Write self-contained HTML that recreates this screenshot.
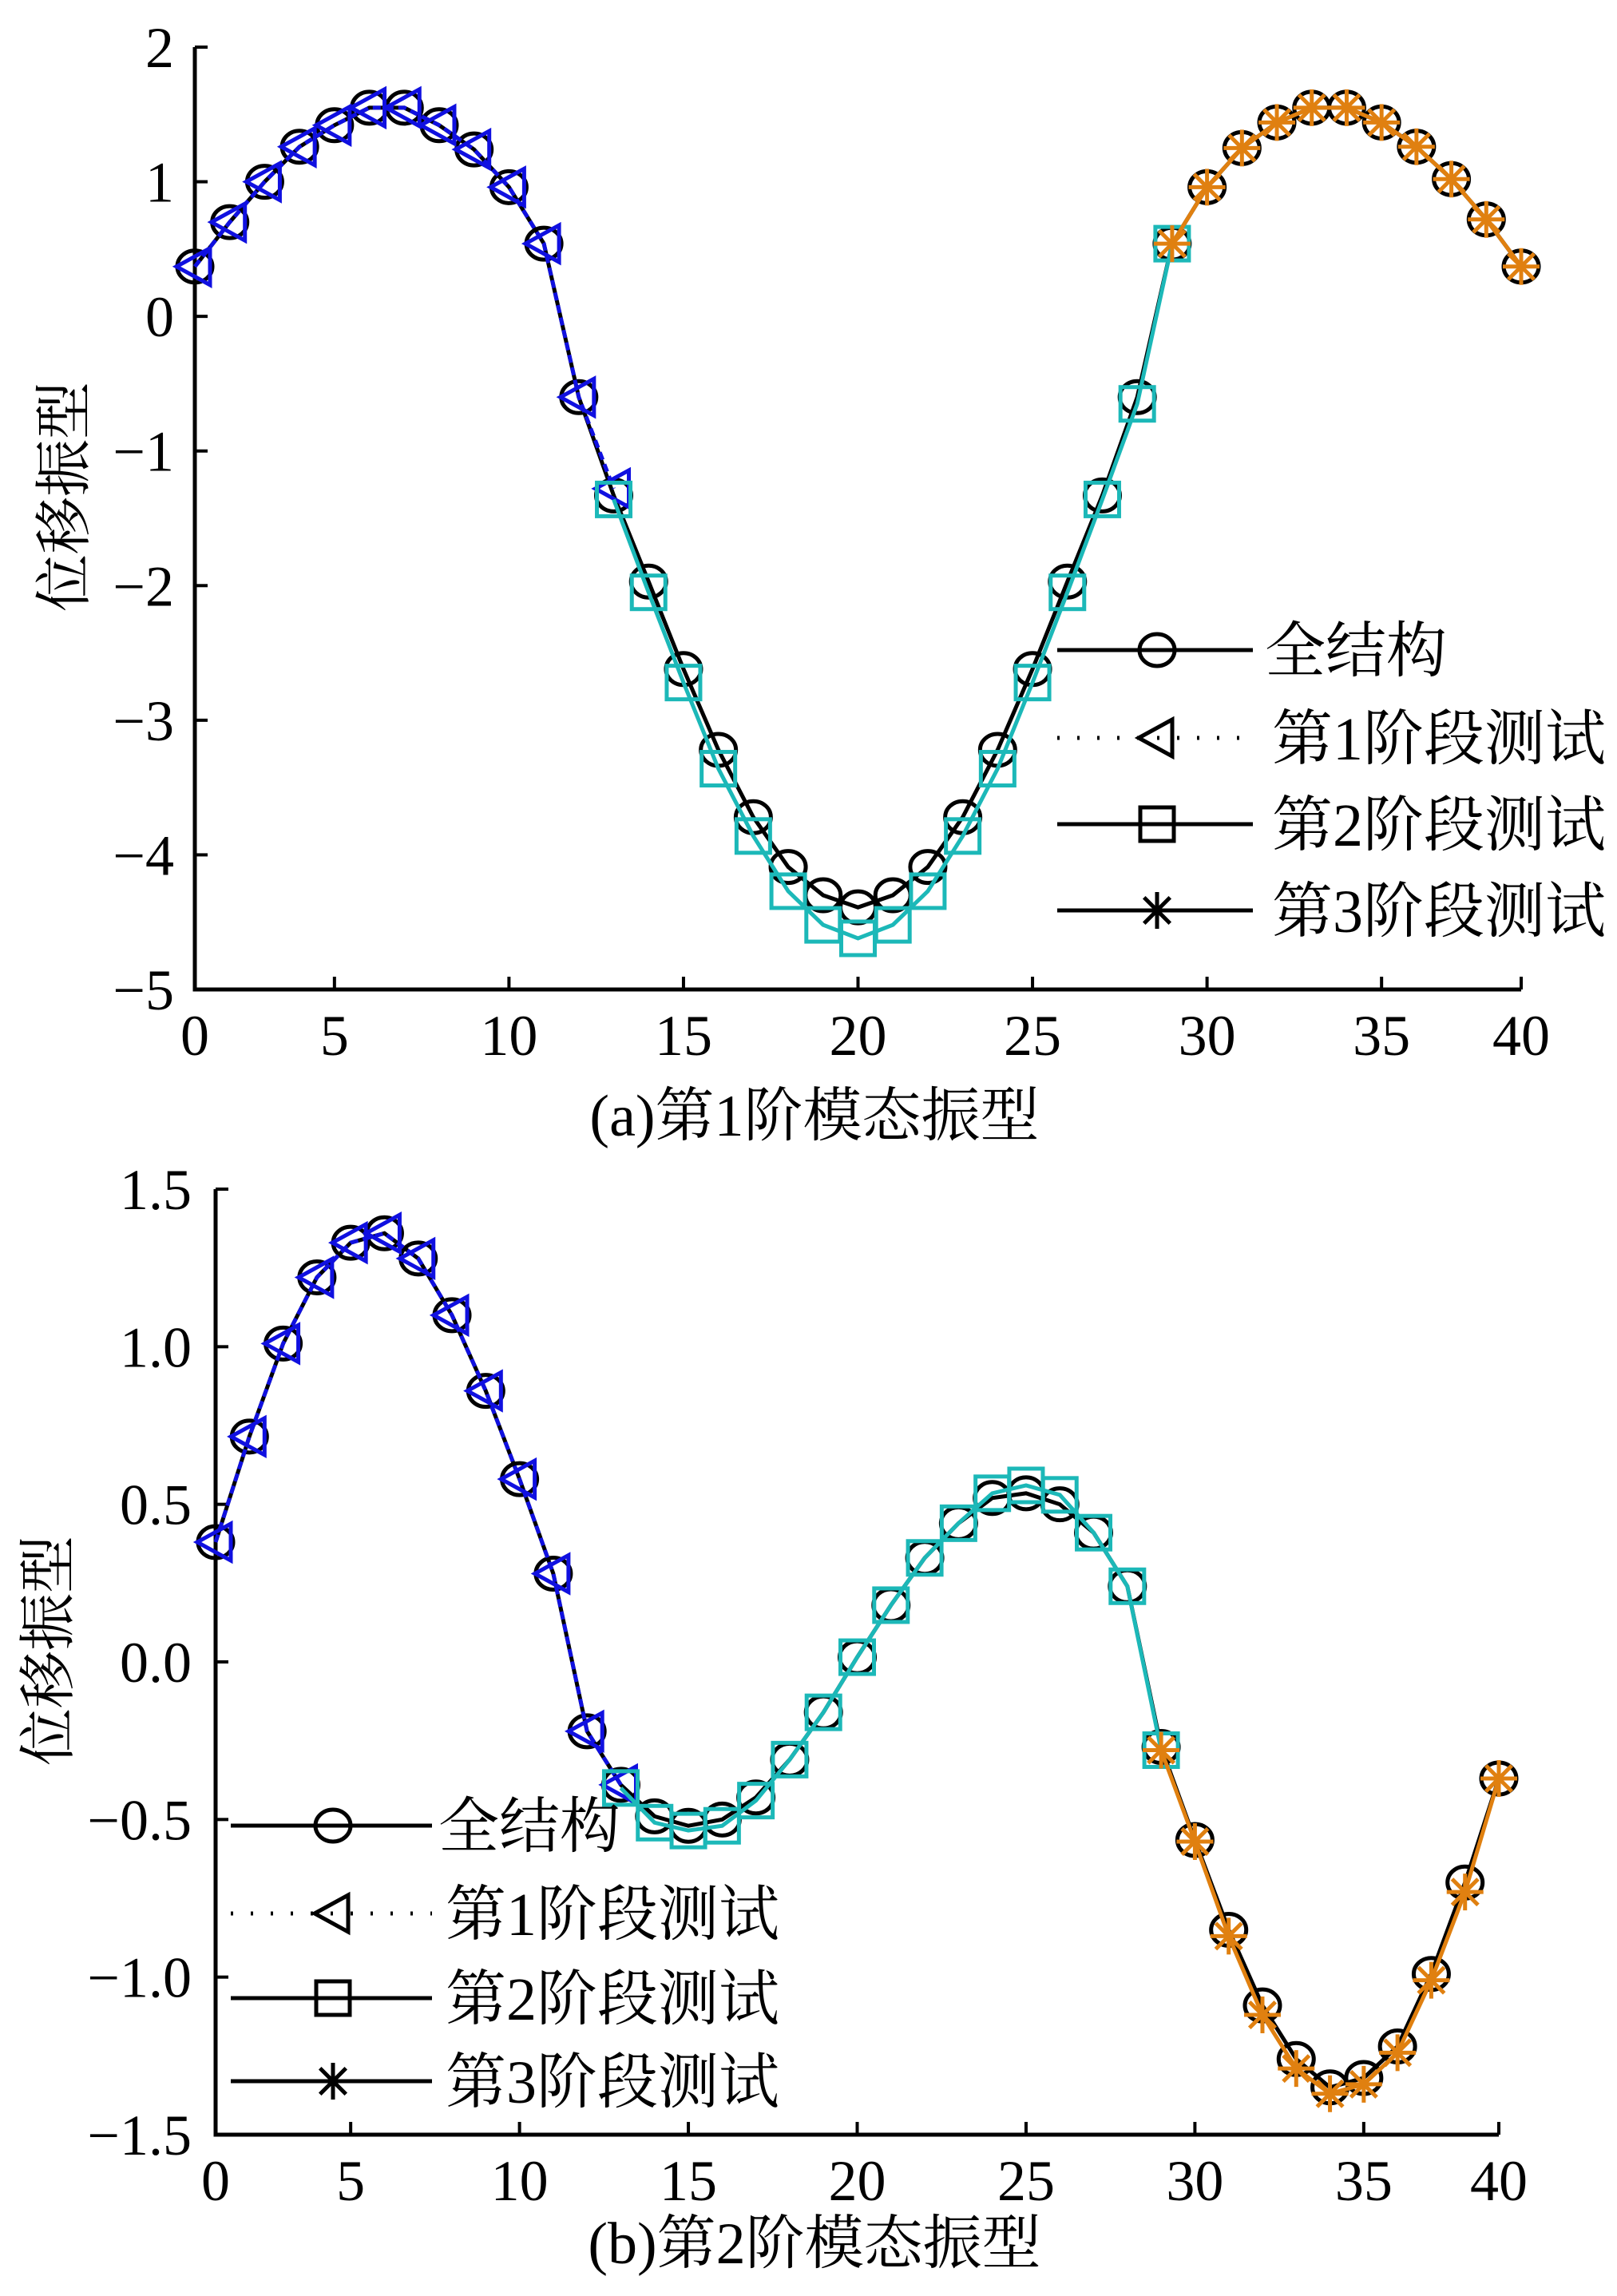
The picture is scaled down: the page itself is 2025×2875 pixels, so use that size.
<!DOCTYPE html>
<html><head><meta charset="utf-8">
<style>
html,body{margin:0;padding:0;background:#fff;}
svg{display:block;}
text{font-family:"Liberation Serif","Noto Serif CJK SC","Noto Sans CJK SC",serif;fill:#000;}
</style></head>
<body>
<svg id="chart" xmlns="http://www.w3.org/2000/svg" width="2025" height="2875" viewBox="0 0 2025 2875"></svg>
<script>
// ---- data ----
const nodes = Array.from({length:39},(_,i)=>i+1);
const xTickVals = [1,5,10,15,20,25,30,35,39];
const xTickLabels = ["0","5","10","15","20","25","30","35","40"];

const aFull = [0.37,0.70,1.00,1.26,1.42,1.55,1.55,1.42,1.24,0.96,0.54,-0.60,-1.33,-1.97,-2.62,-3.22,-3.72,-4.09,-4.30,-4.39,-4.30,-4.09,-3.72,-3.22,-2.62,-1.97,-1.33,-0.60,0.54,0.96,1.25,1.44,1.55,1.55,1.44,1.26,1.02,0.72,0.37];
const aStage1 = [0.37,0.70,1.00,1.26,1.42,1.55,1.55,1.42,1.24,0.96,0.54,-0.60,-1.28];
const aStage2 = [-1.36,-2.05,-2.72,-3.36,-3.86,-4.27,-4.52,-4.62,-4.52,-4.27,-3.86,-3.36,-2.72,-2.05,-1.36,-0.65,0.54];
const aStage3 = [0.54,0.96,1.25,1.44,1.55,1.55,1.44,1.26,1.02,0.72,0.37];
const aYTicks = [2,1,0,-1,-2,-3,-4,-5];

const bFull = [0.38,0.715,1.01,1.22,1.33,1.36,1.28,1.10,0.86,0.58,0.28,-0.22,-0.39,-0.49,-0.52,-0.50,-0.43,-0.31,-0.16,0.015,0.18,0.33,0.44,0.52,0.535,0.50,0.41,0.24,-0.27,-0.565,-0.85,-1.09,-1.26,-1.35,-1.32,-1.22,-0.99,-0.70,-0.37];
const bStage1 = [0.38,0.715,1.01,1.22,1.33,1.36,1.28,1.10,0.86,0.58,0.28,-0.22,-0.39];
const bStage2 = [-0.40,-0.51,-0.535,-0.52,-0.44,-0.31,-0.16,0.015,0.18,0.33,0.44,0.535,0.56,0.53,0.41,0.24,-0.28];
const bStage3 = [-0.28,-0.57,-0.87,-1.12,-1.29,-1.37,-1.34,-1.24,-1.01,-0.73,-0.37];
const bYTicks = [1.5,1.0,0.5,0.0,-0.5,-1.0,-1.5];

const legendLabels = ["全结构","第1阶段测试","第2阶段测试","第3阶段测试"];

const NS = "http://www.w3.org/2000/svg";
const svg = document.getElementById('chart');
const BLUE="#1010e0", CYAN="#1cb8b8", ORANGE="#e08010";

function mk(tag, attrs, parent){
  const e=document.createElementNS(NS,tag);
  for(const k in attrs) e.setAttribute(k,attrs[k]);
  (parent||svg).appendChild(e);
  return e;
}
function fmtMinus(s){return s.replace('-','\u2212');}

function marker(g, type, x, y, color){
  let m;
  if(type==='circle'){
    m=mk('ellipse',{cx:x,cy:y,rx:22,ry:20,fill:'none',stroke:color,'stroke-width':5},g);
  }else if(type==='tri'){
    m=mk('polygon',{points:`${x-23},${y} ${x+19},${y-23} ${x+19},${y+23}`,fill:'none',stroke:color,'stroke-width':5},g);
  }else if(type==='square'){
    m=mk('rect',{x:x-21,y:y-21,width:42,height:42,fill:'none',stroke:color,'stroke-width':5},g);
  }else{
    m=mk('g',{stroke:color,'stroke-width':5},g);
    for(let k=0;k<4;k++){
      const a=k*Math.PI/4, dx=23*Math.cos(a), dy=23*Math.sin(a);
      mk('line',{x1:x-dx,y1:y-dy,x2:x+dx,y2:y+dy},m);
    }
  }
  
  
}

function panel(cfg){
  const g=mk('g',{});
  
  
  const xs=v=>cfg.x0+(v-1)*(cfg.x1-cfg.x0)/38;
  const ys=v=>cfg.yTop+(cfg.yMax-v)*(cfg.yBot-cfg.yTop)/(cfg.yMax-cfg.yMin);
  const ax=mk('path',{d:`M${cfg.x0},${cfg.yTop} V${cfg.yBot} H${cfg.x1}`,fill:'none',stroke:'#000','stroke-width':5},g);
  
  
  cfg.yTicks.forEach(v=>{
    const y=ys(v);
    const t=mk('line',{x1:cfg.x0,y1:y,x2:cfg.x0+16,y2:y,stroke:'#000','stroke-width':4},g);
    
    
    const tx=mk('text',{x:cfg.yLabelX,y:y+25,'text-anchor':'end','font-size':72},g);
    tx.textContent=fmtMinus(cfg.yFmt(v));
    
    
  });
  xTickVals.forEach((v,i)=>{
    const x=xs(v);
    const t=mk('line',{x1:x,y1:cfg.yBot,x2:x,y2:cfg.yBot-16,stroke:'#000','stroke-width':4},g);
    
    
    const tx=mk('text',{x:x,y:cfg.yBot+82,'text-anchor':'middle','font-size':72},g);
    tx.textContent=xTickLabels[i];
    
    
  });
  const yt=mk('text',{x:0,y:0,'text-anchor':'middle','font-size':72,transform:`translate(${cfg.yTitleX},${cfg.yTitleY}) rotate(-90)`},g);
  yt.textContent='位移振型';
  
  
  const cap=mk('text',{x:1020,y:cfg.capY,'text-anchor':'middle','font-size':74},g);
  cap.textContent=cfg.caption;
  
  
  function series(vals, start, color, type, dash, name){
    const sg=mk('g',{},g);
    
    
    const pts=vals.map((v,i)=>`${xs(nodes[start+i])},${ys(v)}`).join(' ');
    const attrs={points:pts,fill:'none',stroke:color,'stroke-width':5};
    if(dash) attrs['stroke-dasharray']=dash;
    const pl=mk('polyline',attrs,sg);
    
    
    vals.forEach((v,i)=>marker(sg,type,xs(nodes[start+i]),ys(v),color));
  }
  series(cfg.full,0,'#000','circle',null,'full-structure-series');
  series(cfg.s1,0,BLUE,'tri','10 6','stage1-series');
  series(cfg.s2,12,CYAN,'square',null,'stage2-series');
  series(cfg.s3,28,ORANGE,'star',null,'stage3-series');
  const lg=mk('g',{},g);
  
  
  const types=['circle','tri','square','star'];
  cfg.legRows.forEach((ry,i)=>{
    const e=mk('g',{},lg);
    
    
    const la={x1:cfg.legX0,y1:ry,x2:cfg.legX1,y2:ry,stroke:'#000','stroke-width':5};
    if(i===1){la['stroke-dasharray']='3 22';}
    mk('line',la,e);
    marker(e,types[i],cfg.legM,ry,'#000');
    const t=mk('text',{x:cfg.legT+(i===0?0:9),y:ry+27,'font-size':76},e);
    t.textContent=legendLabels[i];
    
    
  });
}

panel({name:'panel-a-mode1',x0:244,x1:1905,yTop:59,yBot:1239,yMax:2,yMin:-5,yTicks:aYTicks,
  yFmt:v=>String(v),yLabelX:218,yTitleX:105,yTitleY:622,capY:1422,caption:'(a)第1阶模态振型',
  full:aFull,s1:aStage1,s2:aStage2,s3:aStage3,
  legRows:[814,924,1032,1140],legX0:1324,legX1:1569,legM:1449,legT:1584});
panel({name:'panel-b-mode2',x0:270,x1:1877,yTop:1489,yBot:2673,yMax:1.5,yMin:-1.5,yTicks:bYTicks,
  yFmt:v=>v.toFixed(1),yLabelX:240,yTitleX:85,yTitleY:2067,capY:2834,caption:'(b)第2阶模态振型',
  full:bFull,s1:bStage1,s2:bStage2,s3:bStage3,
  legRows:[2286,2396,2502,2606],legX0:289,legX1:541,legM:417,legT:549});
</script>
</body></html>
